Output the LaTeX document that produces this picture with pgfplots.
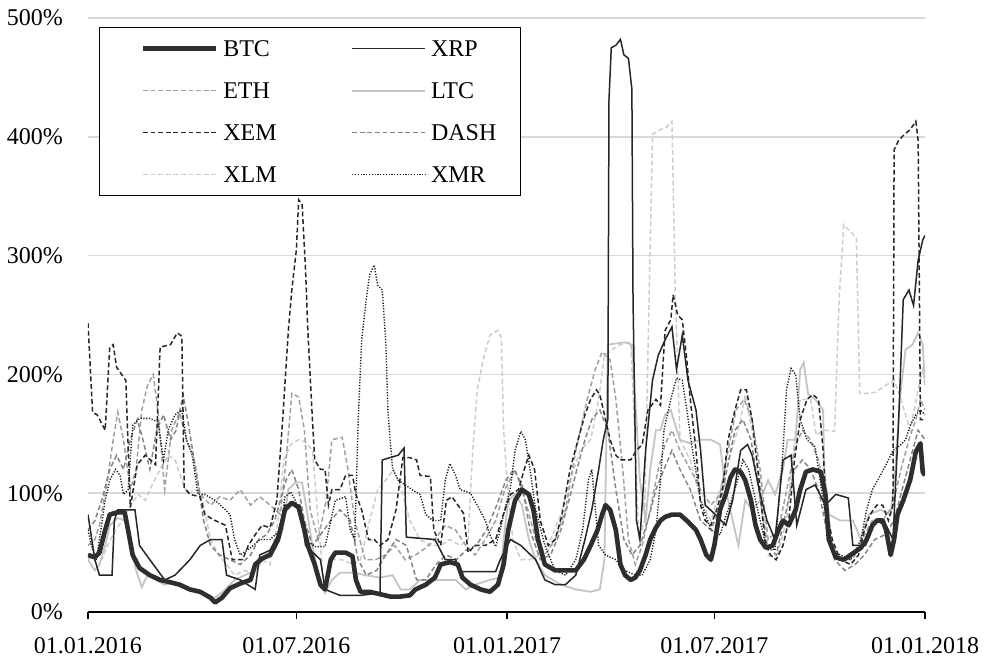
\documentclass[border=0pt]{standalone}
\usepackage{pgfplots}
\pgfplotsset{compat=1.18}
\usepackage{fontspec}
\setmainfont{Liberation Serif}

\definecolor{cbtc}{HTML}{2E2E2E}
\definecolor{cxrp}{HTML}{262626}
\definecolor{ceth}{HTML}{A0A0A0}
\definecolor{cltc}{HTML}{C4C4C4}
\definecolor{cxem}{HTML}{262626}
\definecolor{cdash}{HTML}{858585}
\definecolor{cxlm}{HTML}{CCCCCC}
\definecolor{cxmr}{HTML}{1A1A1A}
\definecolor{cgrid}{HTML}{D9D9D9}

\pgfplotsset{
  btc/.style={draw=cbtc, line width=2.3pt, line join=round},
  xrp/.style={draw=cxrp, line width=0.75pt},
  eth/.style={draw=ceth, line width=0.75pt, dash pattern=on 2.4pt off 1.4pt},
  ltc/.style={draw=cltc, line width=0.9pt},
  xem/.style={draw=cxem, line width=0.75pt, dash pattern=on 2.4pt off 1.4pt},
  dsh/.style={draw=cdash, line width=0.75pt, dash pattern=on 2.4pt off 1.4pt},
  xlm/.style={draw=cxlm, line width=0.75pt, dash pattern=on 2.4pt off 1.4pt},
  xmr/.style={draw=cxmr, line width=0.7pt, dash pattern=on 0.6pt off 0.8pt},
}

\begin{document}
\begin{tikzpicture}
\begin{axis}[
    scale only axis,
    width=418.5pt, height=297pt,
    xmin=0, xmax=731, ymin=0, ymax=500,
    axis x line*=bottom, axis y line*=left,
    x axis line style={black, line width=0.8pt},
    y axis line style={draw=none},
    tick align=outside,
    major tick length=3.5pt,
    xtick={0,182,366,547,731},
    xticklabels={01.01.2016,01.07.2016,01.01.2017,01.07.2017,01.01.2018},
    xtick style={black, line width=0.8pt},
    ytick={0,100,200,300,400,500},
    yticklabels={0\%,100\%,200\%,300\%,400\%,500\%},
    ytick style={draw=none},
    ymajorgrids,
    grid style={cgrid, line width=0.75pt},
    tick label style={font=\fontsize{12}{14}\selectfont},
    yticklabel style={xshift=-5.5pt},
    xticklabel style={yshift=-5.5pt},
    legend columns=2,
    legend cell align=left,
    legend image code/.code={\path (0pt,0pt); \draw[#1] (8.5pt,0pt) -- (45pt,0pt);},
    legend style={
      at={(axis description cs:0.0131,0.985)}, anchor=north west,
      draw=black, line width=0.7pt, fill=white,
      font=\fontsize{12}{14}\selectfont,
      inner xsep=12pt, inner ysep=0pt,
      nodes={inner sep=0pt, text height=14.5pt, text depth=6.5pt},
      /tikz/every odd column/.append style={column sep=2.5pt},
      /tikz/every even column/.append style={column sep=28.8pt},
    },
]
\addlegendimage{btc}\addlegendentry{BTC}
\addlegendimage{xrp}\addlegendentry{XRP}
\addlegendimage{eth}\addlegendentry{ETH}
\addlegendimage{ltc}\addlegendentry{LTC}
\addlegendimage{xem}\addlegendentry{XEM}
\addlegendimage{dsh}\addlegendentry{DASH}
\addlegendimage{xlm}\addlegendentry{XLM}
\addlegendimage{xmr}\addlegendentry{XMR}

% XLM
\addplot[xlm, forget plot] coordinates {
(0,44)(6,48)(12,44)(17,56)(24,69)(30,77)(37,90)(44,99)(50,94)(56,107)(63,120)(70,132)(76,128)(82,111)(87,99)(94,103)(100,94)(107,61)(114,48)(121,40)(128,31)(137,35)(146,31)(152,44)(159,40)(166,77)(171,128)(177,141)(184,145)(190,143)(196,136)(201,77)(206,23)(213,44)(222,44)(231,40)(238,44)(246,77)(253,103)(260,111)(267,120)(274,103)(281,77)(290,61)(299,56)(308,56)(316,61)(325,56)(332,61)(336,136)(340,187)(345,212)(351,233)(358,237)(361,231)(363,153)(366,111)(371,61)(378,44)(386,44)(395,48)(404,61)(413,82)(421,111)(430,136)(439,145)(446,179)(451,216)(458,221)(465,225)(474,227)(477,162)(481,61)(486,77)(490,263)(493,402)(500,406)(505,408)(510,413)(513,263)(517,145)(526,128)(535,94)(544,77)(552,103)(561,132)(570,162)(574,183)(580,153)(587,111)(594,48)(601,44)(610,77)(618,153)(622,179)(631,179)(636,149)(644,153)(652,152)(656,263)(660,326)(666,320)(671,315)(674,184)(680,184)(688,185)(697,191)(704,195)(710,179)(718,153)(725,187)(729,204)(731,191)
};
% LTC
\addplot[ltc, forget plot] coordinates {
(0,44)(6,35)(10,40)(15,56)(19,73)(26,79)(33,77)(37,56)(42,35)(47,21)(52,31)(59,27)(67,23)(76,25)(85,20)(94,19)(102,14)(111,12)(120,19)(128,27)(137,31)(146,35)(155,48)(163,52)(170,69)(175,103)(181,109)(187,109)(191,86)(196,56)(201,31)(207,16)(213,27)(220,33)(233,33)(242,31)(255,29)(266,31)(273,19)(281,19)(290,27)(308,27)(321,27)(330,19)(338,23)(351,27)(360,29)(363,61)(367,94)(373,99)(379,90)(385,61)(391,44)(399,31)(413,23)(426,19)(439,17)(447,19)(451,44)(454,225)(461,226)(469,227)(475,225)(479,162)(482,111)(487,77)(491,120)(496,153)(500,153)(504,166)(509,170)(513,157)(517,145)(526,142)(535,145)(544,145)(552,141)(557,103)(563,77)(568,56)(574,94)(580,86)(587,94)(594,111)(600,99)(607,120)(611,145)(618,145)(622,204)(625,210)(629,183)(635,179)(642,170)(643,120)(647,82)(657,77)(668,77)(675,61)(682,82)(692,86)(701,82)(705,120)(709,179)(714,221)(720,225)(725,235)(729,225)(731,191)
};
% ETH
\addplot[eth, forget plot] coordinates {
(0,56)(6,61)(10,73)(17,111)(22,145)(26,168)(31,145)(37,103)(42,120)(47,170)(52,191)(57,200)(61,170)(67,103)(73,153)(80,168)(86,145)(92,132)(98,99)(107,90)(115,97)(124,94)(133,103)(142,90)(150,97)(159,90)(168,82)(173,128)(178,184)(184,181)(189,153)(194,86)(201,61)(208,94)(213,145)(222,147)(227,120)(233,77)(242,44)(251,44)(260,48)(268,56)(277,44)(286,48)(295,54)(303,61)(312,73)(321,69)(330,56)(338,48)(347,61)(356,77)(364,103)(373,120)(382,94)(391,61)(399,48)(408,61)(417,86)(426,136)(432,162)(437,183)(443,204)(449,219)(456,212)(461,179)(467,120)(472,61)(478,40)(484,56)(491,86)(498,120)(504,141)(510,153)(517,136)(526,120)(535,103)(544,90)(552,99)(559,136)(566,170)(573,179)(580,162)(587,120)(594,61)(603,69)(612,111)(618,141)(624,153)(631,145)(638,128)(645,94)(650,52)(659,44)(668,44)(676,61)(685,77)(694,77)(703,90)(710,120)(717,145)(723,162)(727,179)(731,170)
};
% DASH
\addplot[dsh, forget plot] coordinates {
(0,69)(6,77)(12,94)(19,120)(25,132)(31,120)(37,145)(43,162)(48,145)(54,120)(60,153)(66,166)(72,145)(77,153)(83,183)(87,162)(94,120)(101,77)(107,56)(115,48)(124,44)(133,40)(142,48)(149,61)(156,65)(163,77)(168,94)(173,111)(178,120)(184,103)(189,77)(196,56)(203,65)(212,77)(220,86)(229,77)(236,44)(243,31)(252,35)(260,48)(269,61)(278,56)(287,27)(295,27)(304,40)(313,48)(322,44)(330,52)(339,56)(348,69)(357,90)(365,111)(372,120)(379,107)(386,69)(395,44)(404,48)(413,69)(420,94)(427,120)(434,145)(440,162)(447,170)(454,153)(461,103)(468,61)(475,48)(482,56)(489,77)(496,103)(503,120)(510,136)(517,120)(526,103)(535,77)(544,69)(551,86)(558,120)(565,153)(572,162)(579,145)(586,103)(593,56)(601,48)(610,86)(617,120)(624,128)(631,120)(638,103)(645,69)(652,44)(661,35)(670,40)(678,48)(687,61)(696,65)(704,77)(711,103)(718,128)(725,153)(731,145)
};
% XMR
\addplot[xmr, forget plot] coordinates {
(0,69)(3,56)(7,44)(10,61)(15,94)(19,111)(24,120)(28,115)(31,99)(35,103)(39,157)(45,163)(54,163)(61,160)(66,128)(70,153)(76,166)(82,170)(86,145)(91,132)(96,99)(102,99)(111,94)(120,86)(124,82)(128,61)(133,48)(142,54)(150,61)(159,61)(168,69)(172,97)(177,101)(181,94)(190,61)(198,55)(207,55)(216,94)(225,97)(229,69)(233,61)(236,162)(239,229)(243,263)(246,284)(250,292)(253,275)(257,271)(260,229)(262,168)(266,120)(271,111)(277,107)(283,103)(290,99)(295,82)(301,77)(308,77)(312,111)(316,125)(321,115)(325,103)(334,100)(341,88)(347,77)(351,65)(356,55)(360,69)(364,86)(369,105)(373,136)(378,152)(382,145)(386,120)(391,86)(399,56)(408,35)(417,31)(426,44)(432,69)(437,111)(440,120)(446,56)(452,48)(461,44)(469,35)(478,31)(484,31)(491,44)(496,69)(500,111)(503,153)(509,179)(514,197)(519,195)(523,170)(528,136)(535,94)(544,69)(552,65)(559,86)(565,103)(572,128)(577,120)(583,94)(592,56)(600,52)(607,136)(610,187)(614,205)(618,200)(622,162)(628,145)(635,139)(642,94)(649,52)(657,48)(666,44)(675,61)(680,86)(685,103)(692,115)(697,124)(703,136)(710,141)(714,145)(718,157)(723,166)(727,170)(731,166)
};
% XEM
\addplot[xem, forget plot] coordinates {
(0,243)(4,168)(8,166)(15,153)(19,223)(22,225)(25,206)(33,195)(37,88)(43,124)(50,132)(59,124)(63,223)(72,225)(78,235)(82,232)(84,105)(89,99)(98,97)(102,82)(111,77)(120,73)(126,44)(135,44)(140,56)(146,65)(152,73)(159,71)(165,94)(170,162)(175,237)(178,271)(182,305)(184,347)(187,343)(190,288)(192,237)(196,162)(198,128)(203,120)(207,120)(210,90)(213,103)(220,103)(225,115)(231,115)(234,99)(239,86)(245,61)(250,61)(255,56)(262,61)(269,86)(275,130)(281,130)(287,128)(290,115)(299,114)(302,69)(308,56)(313,94)(318,97)(323,90)(328,83)(332,50)(338,56)(347,56)(356,61)(363,83)(369,99)(376,103)(381,120)(385,132)(390,120)(395,77)(402,56)(408,61)(414,82)(421,120)(428,145)(434,166)(439,179)(444,187)(447,183)(452,162)(456,145)(461,132)(465,128)(474,128)(479,136)(484,141)(489,170)(496,179)(500,174)(504,237)(509,246)(511,267)(515,250)(519,246)(523,212)(526,179)(531,136)(535,90)(539,77)(544,73)(549,86)(554,103)(559,145)(565,170)(570,187)(575,187)(580,162)(586,111)(591,61)(596,48)(601,44)(607,56)(612,77)(617,128)(622,162)(628,179)(633,183)(638,179)(642,136)(645,86)(650,61)(657,44)(666,40)(673,48)(678,69)(683,82)(689,90)(694,90)(699,77)(703,90)(704,389)(708,397)(713,402)(718,406)(723,413)(725,397)(727,162)(731,162)
};
% XRP
\addplot[xrp, forget plot] coordinates {
(0,82)(6,44)(10,31)(21,31)(23,77)(26,86)(41,86)(45,56)(54,44)(67,27)(76,31)(89,44)(98,56)(107,61)(117,61)(121,31)(133,27)(146,19)(150,48)(159,52)(168,69)(172,90)(185,90)(190,56)(203,44)(207,19)(220,14)(238,14)(255,16)(257,128)(271,132)(276,138)(278,63)(303,61)(312,44)(321,44)(325,34)(356,34)(360,44)(369,61)(378,56)(391,44)(399,27)(408,23)(417,23)(426,31)(434,61)(440,86)(446,120)(450,145)(454,162)(455,431)(457,475)(461,477)(465,482)(468,469)(472,466)(475,440)(476,263)(479,77)(482,61)(487,136)(493,195)(498,216)(504,229)(510,240)(514,204)(519,233)(524,195)(531,170)(535,136)(539,90)(548,82)(557,73)(563,94)(570,136)(576,141)(580,132)(587,99)(593,77)(600,61)(607,128)(614,132)(619,73)(627,103)(635,107)(644,90)(653,99)(664,96)(668,56)(679,56)(688,77)(697,73)(703,61)(708,162)(712,263)(717,271)(721,258)(725,296)(729,313)(731,317)
};
% BTC
\addplot[btc, forget plot] coordinates {
(0,48)(6,46)(10,50)(15,69)(19,82)(26,84)(32,84)(35,69)(39,48)(45,37)(54,31)(63,27)(72,25)(80,23)(89,19)(98,17)(107,12)(111,8)(117,12)(124,20)(133,24)(142,27)(146,40)(152,45)(159,48)(166,61)(172,86)(178,92)(184,88)(188,73)(192,56)(198,40)(203,23)(207,19)(212,44)(216,50)(225,50)(231,47)(234,27)(238,17)(246,17)(255,15)(264,13)(273,13)(281,14)(286,19)(295,23)(303,29)(308,40)(316,42)(323,40)(327,29)(334,23)(343,19)(351,17)(358,23)(363,40)(367,69)(373,94)(379,103)(385,99)(389,86)(393,61)(399,40)(408,35)(417,35)(426,35)(433,44)(439,56)(445,69)(449,82)(452,90)(456,86)(461,69)(465,40)(469,31)(474,27)(478,29)(482,35)(487,48)(491,61)(496,71)(500,77)(504,80)(510,82)(517,82)(524,76)(531,69)(535,61)(540,48)(544,44)(547,56)(552,86)(557,99)(561,113)(565,120)(570,118)(574,111)(579,94)(583,73)(587,61)(592,54)(598,56)(603,69)(607,77)(612,73)(618,86)(622,103)(627,118)(633,120)(640,118)(644,99)(647,61)(653,46)(660,44)(666,48)(675,54)(680,61)(685,73)(689,77)(694,77)(697,69)(701,48)(704,61)(707,82)(712,94)(718,111)(723,135)(727,142)(729,118)(731,115)
};
\end{axis}
\pgfresetboundingbox
\path[use as bounding box] (-44pt,-23pt) rectangle (449pt,306pt);
\end{tikzpicture}
\end{document}
